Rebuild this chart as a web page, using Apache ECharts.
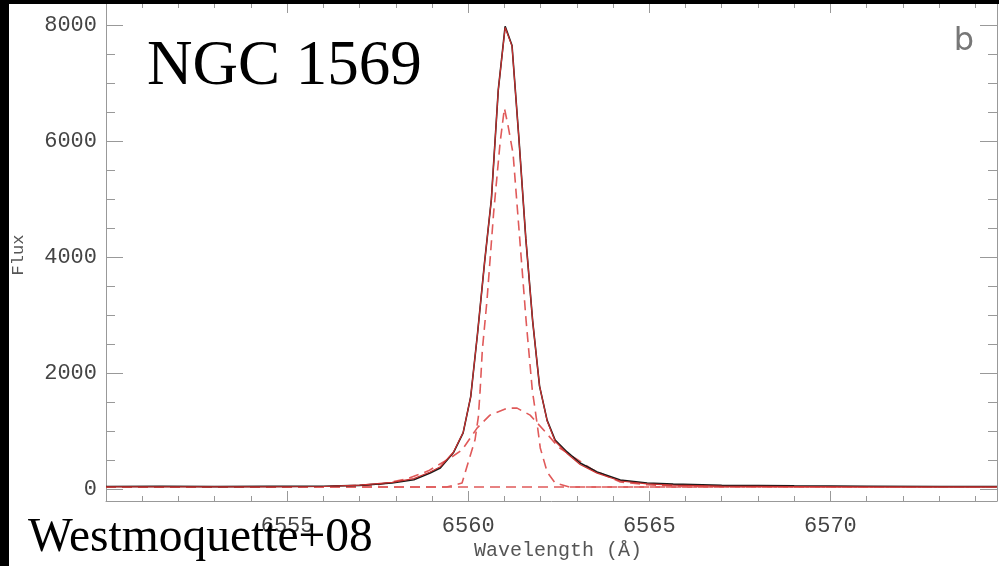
<!DOCTYPE html>
<html>
<head>
<meta charset="utf-8">
<title>NGC 1569 H-alpha</title>
<script src="https://cdn.jsdelivr.net/npm/echarts@6/dist/echarts.min.js"></script>
<style>
  html, body { margin: 0; padding: 0; background: #fff; }
  #main { width: 999px; height: 566px; }
</style>
</head>
<body>
<div id="main"></div>
<script>
// observed spectrum (wavelength in A, flux)
const obsWave = [6550.0, 6551.5, 6553.0, 6554.5, 6556.0, 6557.0, 6557.9, 6558.5, 6558.95, 6559.23, 6559.59, 6559.86, 6560.07, 6560.26, 6560.45, 6560.64, 6560.83, 6561.02, 6561.21, 6561.40, 6561.59, 6561.78, 6561.97, 6562.18, 6562.4, 6562.73, 6563.09, 6563.56, 6564.2, 6564.94, 6565.66, 6567.0, 6569.0, 6571.0, 6573.0, 6574.6]
const obsFlux = [50, 55, 48, 52, 55, 70, 110, 165, 283, 370, 630, 975, 1600, 2700, 3900, 5000, 6880, 7980, 7650, 6050, 4330, 2900, 1780, 1190, 850, 645, 455, 300, 160, 110, 90, 70, 60, 55, 50, 50]
// total fit on the same grid
const fitFlux = [45, 45, 45, 45, 50, 72, 120, 185, 300, 390, 640, 980, 1600, 2700, 3900, 5000, 6880, 7960, 7640, 6050, 4330, 2900, 1780, 1180, 830, 620, 430, 280, 145, 95, 75, 55, 48, 45, 45, 45]
// narrow component
const narrowWave = [6550.0, 6559.4, 6559.83, 6560.19, 6560.28, 6560.33, 6560.39, 6560.52, 6560.7, 6560.88, 6561.0, 6561.1, 6561.24, 6561.4, 6561.6, 6561.77, 6561.9, 6561.99, 6562.18, 6562.4, 6562.8, 6574.6]
const narrowFlux = [40, 40, 110, 860, 1250, 1710, 2400, 3265, 4750, 5970, 6570, 6270, 5780, 4500, 2900, 1710, 1145, 715, 300, 110, 40, 40]
// broad component
const broadWave = [6550.0, 6556.0, 6557.5, 6558.3, 6558.9, 6559.5, 6559.83, 6560.25, 6560.6, 6561.08, 6561.35, 6561.71, 6562.13, 6562.49, 6562.73, 6563.45, 6564.2, 6564.94, 6566.0, 6574.6]
const broadFlux = [40, 45, 80, 180, 320, 540, 680, 1060, 1280, 1400, 1400, 1280, 990, 730, 630, 335, 128, 80, 50, 40]
// continuum level
const contWave = [6550.0, 6574.6]
const contFlux = [40, 40]

const xMajorTicks = [6550, 6555, 6560, 6565, 6570]
const xLabelTicks = [6555, 6560, 6565, 6570]
const xMinorTicks = [6551, 6552, 6553, 6554, 6556, 6557, 6558, 6559, 6561, 6562, 6563, 6564, 6566, 6567, 6568, 6569, 6571, 6572, 6573, 6574]
const yMajorTicks = [0, 2000, 4000, 6000, 8000]
const yMinorTicks = [500, 1000, 1500, 2500, 3000, 3500, 4500, 5000, 5500, 6500, 7000, 7500]

const X_MIN = 6550
const X_MAX = 6574.6
const Y_MIN = -200
const Y_MAX = 8400

const pairs = (xs, ys) => xs.map((x, i) => [x, ys[i]])

const axisGrey = '#999'
const labelFont = { fontFamily: 'Liberation Mono', fontSize: 22, color: '#444', formatter: v => String(v) }
const dashRed = '#e05a5a'

function xAxisDef (position, ticks, len, labels) {
  return {
    type: 'value',
    position: position,
    min: X_MIN,
    max: X_MAX,
    axisLine: { show: len > 6, onZero: false, lineStyle: { color: axisGrey, width: 1 } },
    axisTick: { show: true, inside: true, length: len, customValues: ticks, lineStyle: { color: axisGrey } },
    axisLabel: labels
      ? Object.assign({ show: true, customValues: xLabelTicks, margin: 14 }, labelFont)
      : { show: false },
    splitLine: { show: false }
  }
}

function yAxisDef (position, ticks, len, labels) {
  return {
    type: 'value',
    position: position,
    min: Y_MIN,
    max: Y_MAX,
    axisLine: { show: len > 10, onZero: false, lineStyle: { color: axisGrey, width: 1 } },
    axisTick: { show: true, inside: true, length: len, customValues: ticks, lineStyle: { color: axisGrey } },
    axisLabel: labels
      ? Object.assign({ show: true, customValues: yMajorTicks, margin: 9 }, labelFont)
      : { show: false },
    splitLine: { show: false }
  }
}

function dashedSeries (name, xs, ys) {
  return {
    name: name,
    type: 'line',
    data: pairs(xs, ys),
    symbol: 'none',
    silent: true,
    lineStyle: { color: dashRed, width: 1.6, type: [10, 6] },
    z: 2
  }
}

const chart = echarts.init(document.getElementById('main'), null, { renderer: 'canvas' })

const option = {
  backgroundColor: '#fff',
  animation: false,
  grid: { left: 106, top: 2, width: 891, height: 499, containLabel: false },
  xAxis: [
    xAxisDef('bottom', xMajorTicks, 10, true),
    xAxisDef('bottom', xMinorTicks, 5, false),
    xAxisDef('top', xMajorTicks, 11, false),
    xAxisDef('top', xMinorTicks, 6, false)
  ],
  yAxis: [
    yAxisDef('left', yMajorTicks, 17, true),
    yAxisDef('left', yMinorTicks, 9, false),
    yAxisDef('right', yMajorTicks, 17, false),
    yAxisDef('right', yMinorTicks, 9, false)
  ],
  series: [
    dashedSeries('continuum', contWave, contFlux),
    dashedSeries('broad', broadWave, broadFlux),
    dashedSeries('narrow', narrowWave, narrowFlux),
    {
      name: 'data',
      type: 'line',
      data: pairs(obsWave, obsFlux),
      symbol: 'none',
      lineStyle: { color: '#1a1a1a', width: 1.6 },
      z: 3
    },
    {
      name: 'fit',
      type: 'line',
      data: pairs(obsWave, fitFlux),
      symbol: 'none',
      lineStyle: { color: '#c8302f', width: 1.2 },
      z: 4
    }
  ],
  graphic: [
    { type: 'rect', z: 100, shape: { x: 0, y: 0, width: 9, height: 566 }, style: { fill: '#000' } },
    { type: 'rect', z: 100, shape: { x: 0, y: 0, width: 999, height: 4 }, style: { fill: '#000' } },
    {
      type: 'text', z: 100, x: 147, y: 67,
      style: { text: 'NGC 1569', fontFamily: 'Liberation Serif', fontSize: 63, fill: '#000', align: 'left', verticalAlign: 'middle' }
    },
    {
      type: 'text', z: 100, x: 28, y: 539,
      style: { text: 'Westmoquette+08', fontFamily: 'Liberation Serif', fontSize: 47.5, fill: '#000', align: 'left', verticalAlign: 'middle' }
    },
    {
      type: 'text', z: 100, x: 964, y: 42,
      style: { text: 'b', fontFamily: 'DejaVu Sans', fontSize: 32, fill: '#777', align: 'center', verticalAlign: 'middle' }
    },
    {
      type: 'text', z: 100, x: 18, y: 255, rotation: Math.PI / 2,
      style: { text: 'Flux', fontFamily: 'Liberation Mono', fontSize: 17, fill: '#555', align: 'center', verticalAlign: 'middle' }
    },
    {
      type: 'text', z: 100, x: 558, y: 551,
      style: { text: 'Wavelength (Å)', fontFamily: 'Liberation Mono', fontSize: 20, fill: '#555', align: 'center', verticalAlign: 'middle' }
    }
  ]
}

chart.setOption(option)
</script>
</body>
</html>
